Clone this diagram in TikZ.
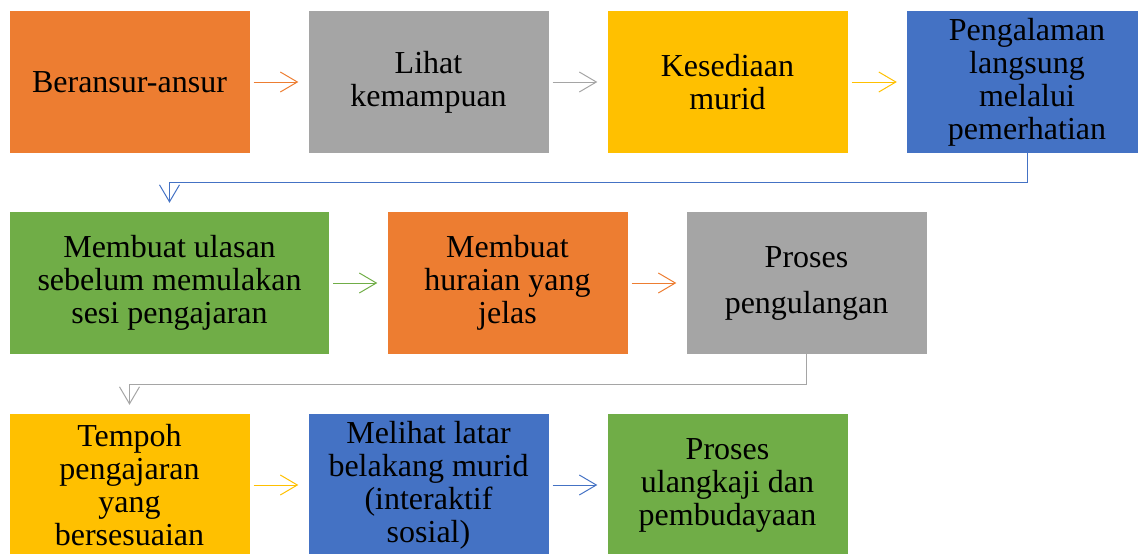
\documentclass[tikz,border=0pt]{standalone}
\usepackage{fontspec}
\setmainfont{Liberation Serif}
\usepackage{xcolor}
\usetikzlibrary{arrows.meta,positioning}
\definecolor{korange}{HTML}{ED7D31}
\definecolor{kgray}{HTML}{A5A5A5}
\definecolor{kgold}{HTML}{FFC000}
\definecolor{kblue}{HTML}{4472C4}
\definecolor{kgreen}{HTML}{70AD47}
\tikzset{
  kbox/.style={draw=none,minimum width=240pt,minimum height=142pt,align=center,inner sep=2pt},
  karr/.style={-{Straight Barb[length=17pt,width=20pt,line width=1pt]},line width=1pt,shorten <=4pt,shorten >=10pt},
  kelb/.style={-{Straight Barb[length=17pt,width=20pt,line width=1pt]},line width=1pt,shorten >=9pt}
}

\begin{document}
\begin{tikzpicture}[x=1pt,y=-1pt,font=\fontsize{32}{33}\selectfont]
  \useasboundingbox (0,0) rectangle (1138,554);
  \clip (0,0) rectangle (1138,554);
  % first row
  \node[kbox,fill=korange] (b1) at (129.5,82) {Beransur-ansur};
  \node[kbox,fill=kgray] (b2) at (428.5,82) {Lihat\\ kemampuan};
  \node[kbox,fill=kgold] (b3) at (727.5,82) {Kesediaan\\ murid};
  \node[kbox,fill=kblue] (b4) at (1027,82) {Pengalaman\\ langsung\\ melalui\\ pemerhatian};
  % second row
  \node[kbox,fill=kgreen,minimum width=319pt] (b5) at (169.5,283) {Membuat ulasan\\ sebelum memulakan\\ sesi pengajaran};
  \node[kbox,fill=korange] (b6) at (507.5,283) {Membuat\\ huraian yang\\ jelas};
  \node[kbox,fill=kgray] (b7) at (806.5,283) {Proses\\[13pt] pengulangan};
  % third row
  \node[kbox,fill=kgold] (b8) at (129.5,485) {Tempoh\\ pengajaran\\ yang\\ bersesuaian};
  \node[kbox,fill=kblue] (b9) at (428.5,485) {Melihat latar\\ belakang murid\\ (interaktif\\ sosial)};
  \node[kbox,fill=kgreen] (b10) at (727.5,485) {Proses\\ ulangkaji dan\\ pembudayaan};
  % connectors
  \draw[karr,korange] (b1)--(b2); \draw[karr,kgray] (b2)--(b3); \draw[karr,kgold] (b3)--(b4);
  \draw[kelb,kblue] (b4.south) -- ++(0,29) -| (b5.north);
  \draw[karr,kgreen] (b5)--(b6); \draw[karr,korange] (b6)--(b7);
  \draw[kelb,kgray] (b7.south) -- ++(0,30) -| (b8.north);
  \draw[karr,kgold] (b8)--(b9); \draw[karr,kblue] (b9)--(b10);
\end{tikzpicture}
\end{document}
